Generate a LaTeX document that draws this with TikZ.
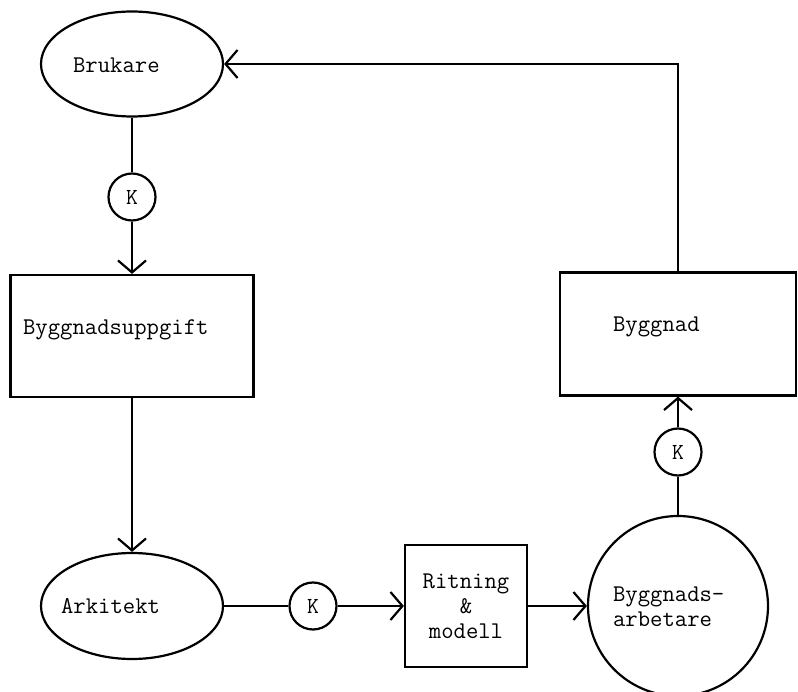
\documentclass[tikz,border=0pt]{standalone}
\usepackage{tikz}
\usetikzlibrary{arrows.meta, positioning, shapes.geometric}

\begin{document}
\begin{tikzpicture}[
    x=1pt, y=-1pt,
    font=\fontsize{24}{25}\selectfont\ttfamily,
    line width=2.2pt,
    blob/.style={draw, ellipse, inner sep=0pt, minimum width=182pt},
    box/.style={draw, rectangle, inner sep=0pt},
    kring/.style={draw, circle, minimum size=47pt, inner sep=0pt,
                  font=\fontsize{23}{24}\selectfont\ttfamily},
    txt/.style={anchor=base west, inner sep=0pt, align=left},
    arr/.style={-{Straight Barb[length=12pt, width=28pt]}}
]
\useasboundingbox (0,0) rectangle (798,692);

%% ---- LEFT COLUMN ------------------------------------------------
\node[blob, minimum height=105pt] (brukare)  at (132,64)  {};
\node[kring]                      (kbruk)    at (132,197) {K};
\node[box, minimum width=243pt, minimum height=122pt] (uppgift) at (132,336) {};
\node[blob, minimum height=106pt] (arkitekt) at (132,606) {};

\node[txt] (bruktxt) at (72,73)  {Brukare};
\node[txt] (uppgtxt) at (22,335) {Byggnadsuppgift};
\node[txt] (arkitxt) at (60,613) {Arkitekt};

\draw      (brukare) -- (kbruk);
\draw[arr] (kbruk)   -- (uppgift);
\draw[arr] (uppgift) -- (arkitekt);

%% ---- BOTTOM ROW -------------------------------------------------
\node[kring] (kark) at (313,606) {K};
\node[box, minimum size=122pt, align=center] (ritning) at (466,606) {Ritning\\\&\\modell};
\node[draw, circle, minimum size=180pt, inner sep=0pt] (arbetare) at (678,606) {};
\node[txt, anchor=west] (arbtxt) at (612,607) {Byggnads-\\arbetare};

\draw      (arkitekt) -- (kark);
\draw[arr] (kark)     -- (ritning);
\draw[arr] (ritning)  -- (arbetare);

%% ---- RIGHT COLUMN -----------------------------------------------
\node[kring] (kbygg) at (678,452) {K};
\node[box, minimum width=236pt, minimum height=123pt] (byggnad) at (678,334) {};
\node[txt] (byggtxt) at (612,332) {Byggnad};

\draw      (arbetare) -- (kbygg);
\draw[arr] (kbygg)    -- (byggnad);
\draw[arr] (byggnad.north) |- (brukare);

\end{tikzpicture}
\end{document}
